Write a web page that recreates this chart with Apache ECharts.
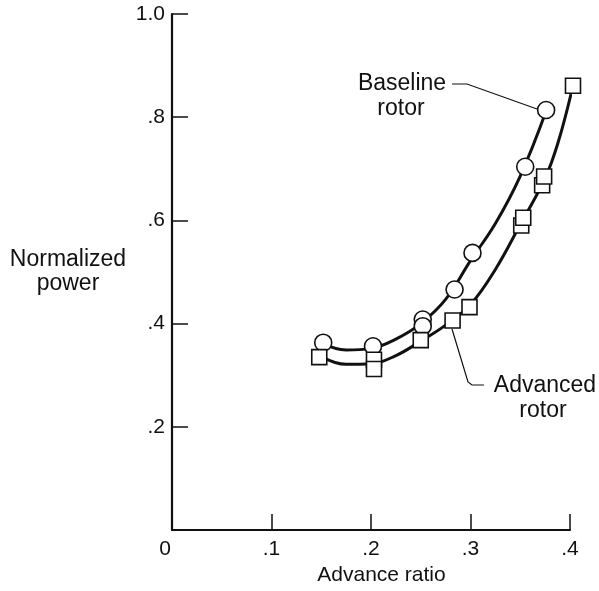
<!DOCTYPE html>
<html>
<head>
<meta charset="utf-8">
<script src="https://cdn.jsdelivr.net/npm/echarts@6/dist/echarts.min.js"></script>
<style>
html,body{margin:0;padding:0;background:#fff;}
#chart{width:599px;height:591px;}
</style>
</head>
<body>
<div id="chart"></div>
<script>
// Axis ticks
var xTicks = [0, 0.1, 0.2, 0.3, 0.4];
var yTicks = [0.2, 0.4, 0.6, 0.8, 1.0];

// Measured points: baseline rotor (circles)
var baselineX = [0.152, 0.202, 0.252, 0.252, 0.284, 0.302, 0.355, 0.376];
var baselineY = [0.363, 0.356, 0.408, 0.395, 0.466, 0.537, 0.704, 0.814];

// Measured points: advanced rotor (squares)
var advancedX = [0.148, 0.203, 0.203, 0.250, 0.282, 0.299, 0.351, 0.353, 0.372, 0.374, 0.403];
var advancedY = [0.335, 0.330, 0.312, 0.368, 0.406, 0.432, 0.590, 0.605, 0.668, 0.685, 0.861];

// Faired curves
var baselineCurveX = [0.150, 0.175, 0.200, 0.225, 0.250, 0.275, 0.300, 0.325, 0.350, 0.376];
var baselineCurveY = [0.362, 0.349, 0.352, 0.370, 0.400, 0.447, 0.522, 0.594, 0.686, 0.812];

var advancedCurveX = [0.150, 0.175, 0.200, 0.225, 0.250, 0.275, 0.300, 0.325, 0.350, 0.375, 0.388, 0.401];
var advancedCurveY = [0.336, 0.321, 0.322, 0.338, 0.366, 0.397, 0.437, 0.505, 0.592, 0.682, 0.751, 0.845];

function pairs(xs, ys) { return xs.map(function (x, i) { return [x, ys[i]]; }); }

var FONT = '"Liberation Sans", Arial, Helvetica, sans-serif';
var chart = echarts.init(document.getElementById('chart'), null, {renderer: 'canvas'});

chart.setOption({
  backgroundColor: '#ffffff',
  animation: false,
  grid: {left: 172, right: 29, top: 14, bottom: 61, containLabel: false},
  xAxis: {
    type: 'value', min: xTicks[0], max: xTicks[xTicks.length - 1], interval: 0.1,
    name: 'Advance ratio', nameLocation: 'middle', nameGap: 35,
    nameTextStyle: {fontFamily: FONT, fontSize: 21, color: '#111', padding: [0, 0, 0, 21]},
    axisLine: {lineStyle: {color: '#111', width: 2.2}},
    axisTick: {inside: true, length: 16, lineStyle: {color: '#111', width: 1.5}},
    splitLine: {show: false},
    axisLabel: {
      margin: 9, fontFamily: FONT, fontSize: 21, color: '#111',
      formatter: function (v) {
        if (Math.abs(v) < 1e-9) return '{z|0}';
        return '.' + Math.round(v * 10);
      },
      rich: {z: {fontFamily: FONT, fontSize: 21, color: '#111', padding: [0, 14, 0, 0]}}
    }
  },
  yAxis: {
    type: 'value', min: 0, max: yTicks[yTicks.length - 1], interval: 0.2,
    name: 'Normalized\npower', nameLocation: 'middle', nameRotate: 0, nameGap: 104,
    nameTextStyle: {fontFamily: FONT, fontSize: 23, color: '#111', align: 'center', verticalAlign: 'middle', lineHeight: 24, padding: [10, 0, 0, 0]},
    axisLine: {show: true, lineStyle: {color: '#111', width: 2.2}},
    axisTick: {show: true, inside: true, length: 16, lineStyle: {color: '#111', width: 1.5}},
    splitLine: {show: false},
    axisLabel: {
      margin: 7, fontFamily: FONT, fontSize: 21, color: '#111',
      formatter: function (v) {
        if (Math.abs(v) < 1e-9) return '';
        if (Math.abs(v - 1) < 1e-9) return '1.0';
        return '.' + Math.round(v * 10);
      }
    }
  },
  series: [
    {
      type: 'line', name: 'Baseline curve', data: pairs(baselineCurveX, baselineCurveY),
      smooth: 0.4, showSymbol: false, symbol: 'none',
      lineStyle: {color: '#111', width: 3}, z: 2, silent: true
    },
    {
      type: 'line', name: 'Advanced curve', data: pairs(advancedCurveX, advancedCurveY),
      smooth: 0.4, showSymbol: false, symbol: 'none',
      lineStyle: {color: '#111', width: 3}, z: 2, silent: true
    },
    {
      type: 'scatter', name: 'Baseline rotor', data: pairs(baselineX, baselineY),
      symbol: 'circle', symbolSize: 17, clip: false,
      itemStyle: {color: '#fff', borderColor: '#111', borderWidth: 1.6, opacity: 1}, z: 3
    },
    {
      type: 'scatter', name: 'Advanced rotor', data: pairs(advancedX, advancedY),
      symbol: 'rect', symbolSize: 15, clip: false,
      itemStyle: {color: '#fff', borderColor: '#111', borderWidth: 1.6, opacity: 1}, z: 4
    }
  ],
  graphic: [
    {type: 'text', x: 402, y: 84, style: {text: 'Baseline', fontFamily: FONT, fontSize: 23, fill: '#111', align: 'center', verticalAlign: 'middle'}},
    {type: 'text', x: 401, y: 109, style: {text: 'rotor', fontFamily: FONT, fontSize: 23, fill: '#111', align: 'center', verticalAlign: 'middle'}},
    {type: 'polyline', shape: {points: [[452, 84], [467, 84], [537, 109]]}, style: {stroke: '#111', lineWidth: 1.2, fill: null}},
    {type: 'text', x: 545, y: 386, style: {text: 'Advanced', fontFamily: FONT, fontSize: 23, fill: '#111', align: 'center', verticalAlign: 'middle'}},
    {type: 'text', x: 543, y: 411, style: {text: 'rotor', fontFamily: FONT, fontSize: 23, fill: '#111', align: 'center', verticalAlign: 'middle'}},
    {type: 'polyline', shape: {points: [[452, 329], [468, 382], [472, 385], [484, 385]]}, style: {stroke: '#111', lineWidth: 1.2, fill: null}}
  ]
});
</script>
</body>
</html>
